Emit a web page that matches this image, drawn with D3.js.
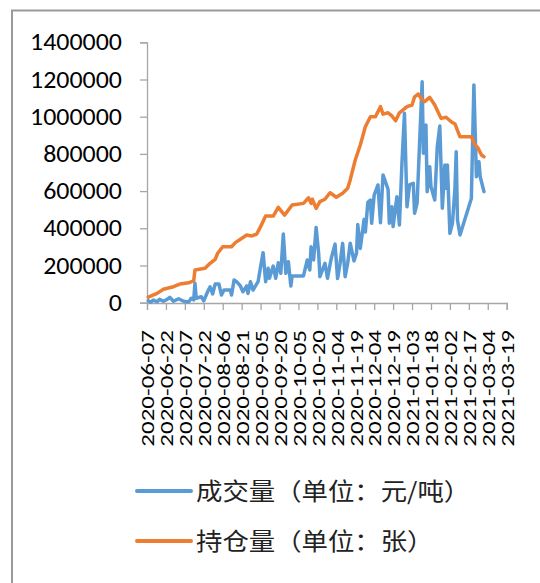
<!DOCTYPE html>
<html><head><meta charset="utf-8">
<script src="https://cdn.jsdelivr.net/npm/d3@7/dist/d3.min.js"></script>
<style>
html,body{margin:0;padding:0;background:#fff;}
svg{display:block;}
</style></head>
<body>
<svg id="chart" width="540" height="583"></svg>
<script>
// ---- data ----
const tickLabels = ["2020-06-07","2020-06-22","2020-07-07","2020-07-22","2020-08-06","2020-08-21","2020-09-05","2020-09-20","2020-10-05","2020-10-20","2020-11-04","2020-11-19","2020-12-04","2020-12-19","2021-01-03","2021-01-18","2021-02-02","2021-02-17","2021-03-04","2021-03-19"];
const yTicks = [0,200000,400000,600000,800000,1000000,1200000,1400000];
const seriesNames = ["成交量（单位：元/吨）","持仓量（单位：张）"];

const volumeDates = ["2020-06-08","2020-06-10","2020-06-12","2020-06-15","2020-06-17","2020-06-20","2020-06-23","2020-06-25","2020-06-28","2020-07-02","2020-07-06","2020-07-10","2020-07-12","2020-07-14","2020-07-15","2020-07-16","2020-07-20","2020-07-22","2020-07-25","2020-07-27","2020-07-29","2020-07-31","2020-08-03","2020-08-05","2020-08-07","2020-08-12","2020-08-13","2020-08-15","2020-08-17","2020-08-20","2020-08-22","2020-08-25","2020-08-26","2020-08-28","2020-08-30","2020-09-03","2020-09-05","2020-09-07","2020-09-09","2020-09-11","2020-09-12","2020-09-15","2020-09-17","2020-09-19","2020-09-21","2020-09-23","2020-09-25","2020-09-27","2020-09-29","2020-09-30","2020-10-09","2020-10-12","2020-10-14","2020-10-15","2020-10-17","2020-10-19","2020-10-21","2020-10-22","2020-10-26","2020-10-28","2020-10-30","2020-10-31","2020-11-03","2020-11-05","2020-11-07","2020-11-09","2020-11-11","2020-11-13","2020-11-15","2020-11-18","2020-11-20","2020-11-21","2020-11-23","2020-11-26","2020-11-27","2020-11-29","2020-12-01","2020-12-02","2020-12-04","2020-12-07","2020-12-09","2020-12-11","2020-12-15","2020-12-16","2020-12-18","2020-12-19","2020-12-22","2020-12-24","2020-12-26","2020-12-28","2020-12-30","2021-01-01","2021-01-04","2021-01-05","2021-01-07","2021-01-11","2021-01-12","2021-01-14","2021-01-15","2021-01-17","2021-01-18","2021-01-21","2021-01-23","2021-01-25","2021-01-27","2021-01-29","2021-01-30","2021-01-31","2021-02-02","2021-02-04","2021-02-06","2021-02-07","2021-02-08","2021-02-10","2021-02-19","2021-02-21","2021-02-23","2021-02-25","2021-02-26","2021-03-01"];
const volumeValues = [11000,3000,14000,5000,18000,8000,18000,29000,8000,21000,8000,4000,24000,15000,104000,24000,32000,10000,59000,86000,47000,100000,100000,41000,68000,68000,41000,122000,113000,90000,59000,90000,50000,113000,68000,113000,194000,269000,113000,185000,131000,197000,131000,215000,158000,369000,158000,220000,90000,144000,144000,230000,176000,301000,230000,405000,266000,140000,212000,131000,203000,239000,315000,130000,212000,319000,140000,212000,320000,225000,266000,420000,292000,448000,380000,540000,552000,427000,579000,633000,430000,687000,610000,427000,516000,409000,570000,418000,749000,1018000,516000,633000,642000,481000,534000,1188000,803000,955000,597000,731000,624000,552000,839000,950000,508000,740000,615000,740000,373000,427000,615000,812000,445000,364000,560000,1171000,677000,758000,677000,597000];

const oiDates = ["2020-06-08","2020-06-15","2020-06-20","2020-06-28","2020-07-03","2020-07-10","2020-07-14","2020-07-15","2020-07-23","2020-07-27","2020-07-31","2020-08-02","2020-08-06","2020-08-13","2020-08-16","2020-08-20","2020-08-25","2020-08-29","2020-09-02","2020-09-05","2020-09-09","2020-09-15","2020-09-19","2020-09-24","2020-09-30","2020-10-09","2020-10-13","2020-10-15","2020-10-16","2020-10-19","2020-10-22","2020-10-26","2020-10-30","2020-11-04","2020-11-09","2020-11-13","2020-11-15","2020-11-19","2020-11-23","2020-11-27","2020-12-01","2020-12-05","2020-12-09","2020-12-11","2020-12-15","2020-12-18","2020-12-21","2020-12-24","2020-12-30","2021-01-03","2021-01-05","2021-01-08","2021-01-11","2021-01-13","2021-01-17","2021-01-21","2021-01-26","2021-01-30","2021-02-03","2021-02-06","2021-02-10","2021-02-19","2021-02-22","2021-02-24","2021-02-27","2021-03-01"];
const oiValues = [30000,50000,72000,86000,100000,107000,118000,176000,185000,212000,233000,266000,301000,301000,323000,341000,364000,359000,369000,409000,466000,466000,513000,471000,525000,534000,564000,534000,556000,507000,543000,556000,591000,567000,588000,615000,660000,767000,848000,946000,1000000,1000000,1054000,1014000,1021000,1004000,978000,1021000,1054000,1063000,1107000,1122000,1090000,1081000,1104000,1063000,991000,997000,973000,961000,892000,892000,848000,835000,794000,785000];

const colors = ["#5B9BD5","#ED7D31"];

// ---- drawing ----
const parse = d3.utcParse("%Y-%m-%d");
const svg = d3.select("#chart");
const FONT = "Carlito, Calibri, 'Liberation Sans', Arial, sans-serif";

svg.append("rect").attr("x",0).attr("y",0).attr("width",540).attr("height",583).attr("fill","#fff");
// outer chart border
svg.append("rect").attr("x",12).attr("y",10.5).attr("width",600).attr("height",600)
  .attr("fill","none").attr("stroke","#9a9a9a").attr("stroke-width",2);

const x = d3.scaleUtc().domain([parse(tickLabels[0]), parse(tickLabels[tickLabels.length-1])]).range([147, 506.7]);
const y = d3.scaleLinear().domain([0, 1400000]).range([302.7, 42.3]);

// y axis
const yAxis = svg.append("g").attr("transform","translate(147,0)")
  .call(d3.axisLeft(y).tickValues(yTicks).tickFormat(d3.format("d")).tickSizeOuter(0).tickSize(7));
yAxis.select(".domain").attr("stroke","#a6a6a6").attr("stroke-width",1.3);
yAxis.selectAll(".tick line").attr("stroke","#a6a6a6").attr("stroke-width",1.3);
yAxis.selectAll(".tick text")
  .attr("x",0).attr("dy","0.32em")
  .attr("transform","translate(-25,0) scale(1.08,1)")
  .attr("font-family",FONT).attr("font-size",24).attr("fill","#000");

// x axis
const xAxis = svg.append("g").attr("transform","translate(0,303)")
  .call(d3.axisBottom(x).tickValues(tickLabels.map(parse)).tickFormat(d3.utcFormat("%Y-%m-%d")).tickSizeOuter(0).tickSize(7));
xAxis.select(".domain").attr("stroke","#a6a6a6").attr("stroke-width",1.3);
xAxis.selectAll(".tick line").attr("stroke","#a6a6a6").attr("stroke-width",1.3);
xAxis.selectAll(".tick text")
  .attr("x",0).attr("y",0).attr("dy","0.32em")
  .attr("text-anchor","end")
  .attr("transform","translate(1,27) rotate(-90) scale(1.39,1)")
  .attr("font-family",FONT).attr("font-size",18).attr("fill","#000");

// lines
const line = d3.line().x(d => x(d[0])).y(d => y(d[1])).curve(d3.curveLinear);
const volData = volumeDates.map((d,i) => [parse(d), volumeValues[i]]);
const oiData = oiDates.map((d,i) => [parse(d), oiValues[i]]);

svg.append("path").datum(volData).attr("d", line).attr("fill","none")
  .attr("stroke",colors[0]).attr("stroke-width",3.5).attr("stroke-linejoin","round").attr("stroke-linecap","round");
svg.append("path").datum(oiData).attr("d", line).attr("fill","none")
  .attr("stroke",colors[1]).attr("stroke-width",3.5).attr("stroke-linejoin","round").attr("stroke-linecap","round");

// legend
const legendY = [491, 541];
const lg = svg.append("g");
seriesNames.forEach((name, i) => {
  lg.append("line").attr("x1",137).attr("x2",191).attr("y1",legendY[i]).attr("y2",legendY[i])
    .attr("stroke",colors[i]).attr("stroke-width",4).attr("stroke-linecap","round");
  lg.append("text").attr("x",0).attr("y",0).attr("dy","0.36em")
    .attr("transform",`translate(196,${legendY[i]}) scale(1.1,1)`)
    .attr("font-family","'Noto Sans CJK SC', sans-serif").attr("font-size",24).attr("fill","#222")
    .text(name);
});
</script>
</body></html>
